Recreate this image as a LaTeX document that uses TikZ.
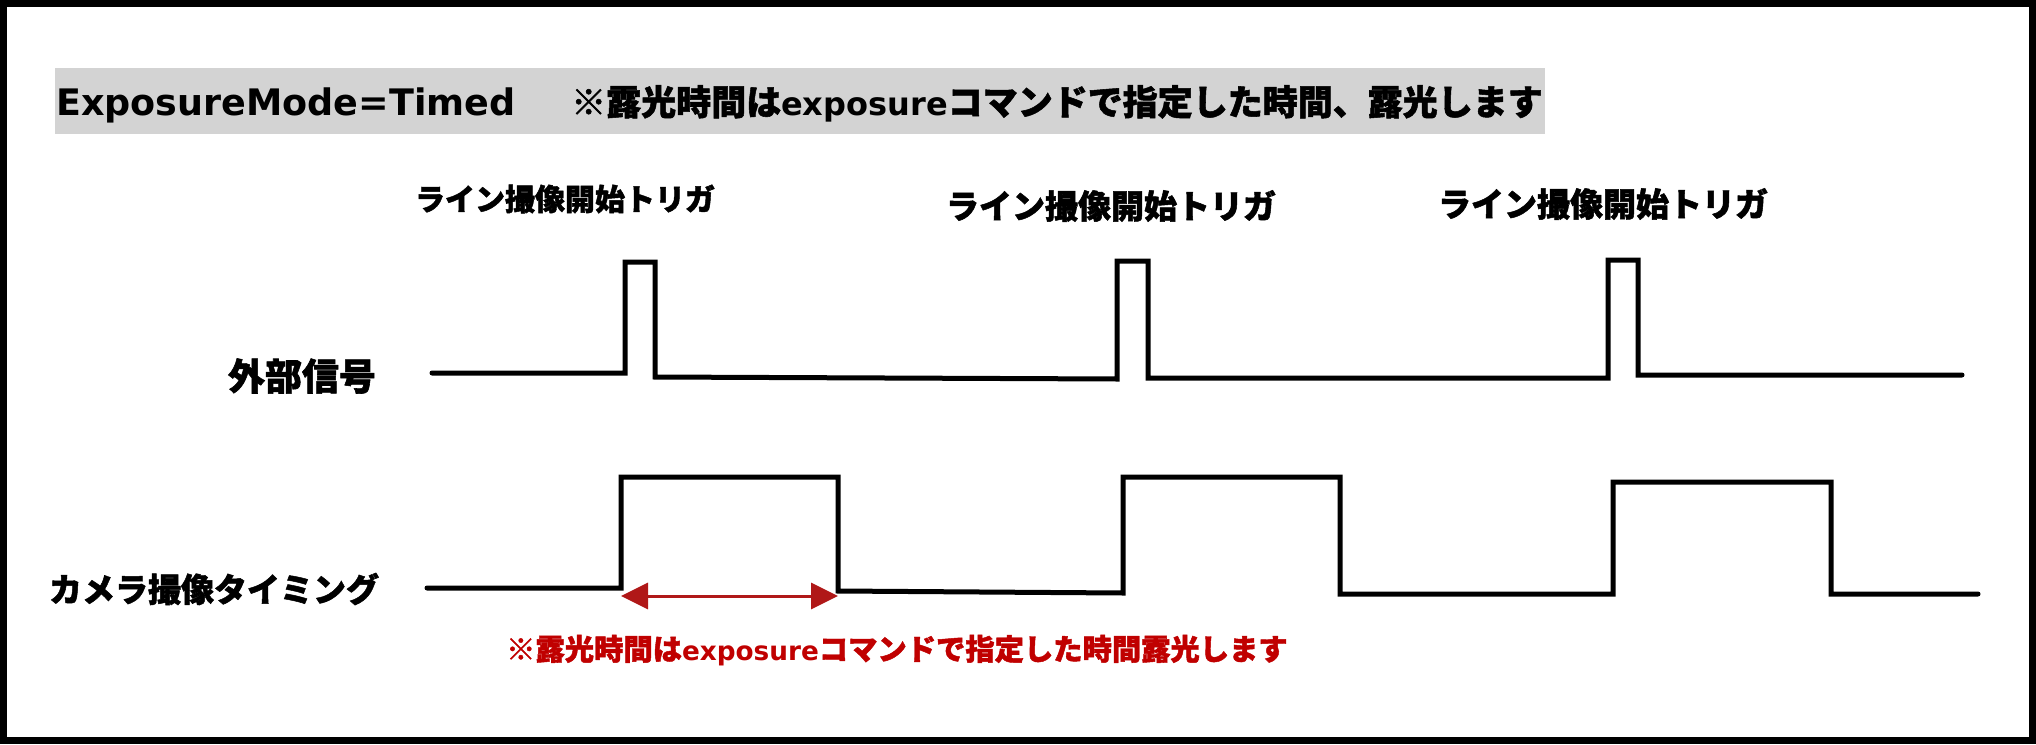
\documentclass[tikz,border=0pt]{standalone}
\usepackage{fontspec}
\newfontfamily\cjk{Noto Sans CJK JP}[BoldFeatures={FakeBold=1.5}]
\newfontfamily\latf{DejaVu Sans}
\usetikzlibrary{arrows.meta}
\definecolor{hdrgray}{RGB}{211,211,211}
\definecolor{arrred}{RGB}{176,24,24}
\definecolor{txtred}{RGB}{192,0,0}
\newcommand\jpn[1]{{\cjk\bfseries #1}}
\newcommand\ltn[1]{{\latf\bfseries #1}}
\newcommand\fs[1]{\fontsize{#1}{#1}\selectfont}
\begin{document}
\begin{tikzpicture}[x=1pt,y=-1pt,
  sig/.style={line width=5pt, line join=miter, line cap=round},
  lbl/.style={inner sep=0pt, font=\cjk\bfseries},
  exparrow/.style={arrred, line width=3pt, {Triangle[length=27pt,width=26pt]}-{Triangle[length=27pt,width=26pt]}}]
\useasboundingbox (0,0) rectangle (2036,744);
\fill[white] (0,0) rectangle (2036,744);
\draw[line width=7pt] (3.5,3.5) rectangle (2032.5,740.5);

% header
\fill[hdrgray] (55,68) rectangle (1545,134);
\node[anchor=base west, inner sep=0pt] (mode) at (56,115) {\ltn{\fs{36.5}ExposureMode=Timed}};
\node[anchor=base west, inner sep=0pt] (note) at (571,115) {\fs{35}\jpn{※露光時間は}\ltn{\fs{32}exposure}\jpn{コマンドで指定した時間、露光します}};

% trigger labels
\node[lbl] (trig1) at (565,199) {\fs{30}ライン撮像開始トリガ};
\node[lbl] (trig2) at (1111,206) {\fs{33}ライン撮像開始トリガ};
\node[lbl] (trig3) at (1603,204) {\fs{33}ライン撮像開始トリガ};

% signal labels
\node[lbl] (ext) at (302,376) {\fs{37}外部信号};
\node[lbl] (cam) at (214,589) {\fs{33}カメラ撮像タイミング};

% external signal
\draw[sig] (432,373) -- (625,373) -- (625,262) -- (655,262) -- (655,377) -- (1117,379)
  -- (1117,261) -- (1148,261) -- (1148,378) -- (1608,378) -- (1608,260) -- (1638,260)
  -- (1638,375) -- (1962,375);

% camera timing
\draw[sig] (427,588) -- (621,588) -- (621,477) -- (838,477) -- (838,591) -- (1123,593)
  -- (1123,477) -- (1340,477) -- (1340,594) -- (1613,594) -- (1613,482) -- (1831,482)
  -- (1831,594) -- (1978,594);

% exposure arrow
\coordinate (a1) at (621,596);
\coordinate (a2) at (838,596);
\draw[exparrow] (a1) -- (a2);

\node[anchor=base west, inner sep=0pt, text=txtred] (expnote) at (506,660)
  {\fs{29.3}\jpn{※露光時間は}\ltn{\fs{26.3}exposure}\jpn{コマンドで指定した時間露光します}};
\end{tikzpicture}
\end{document}
